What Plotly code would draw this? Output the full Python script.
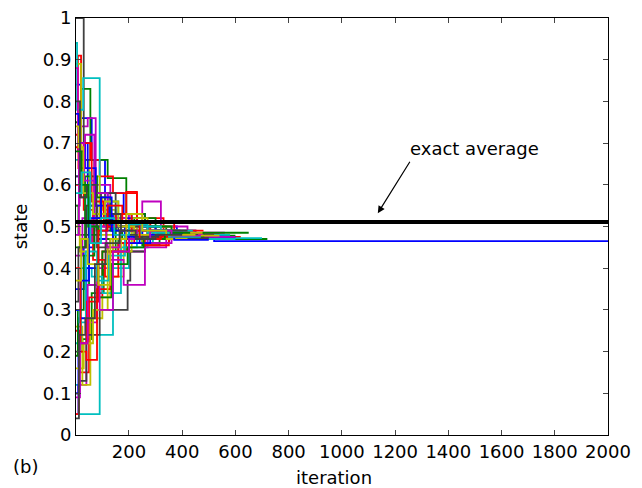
import plotly.graph_objects as go

# ---- data: step traces (iteration breakpoints, state values) ----
b1_x = [1, 20, 60, 110, 180, 260, 380, 520, 2000]
b1_y = [0.84, 0.76, 0.66, 0.58, 0.53, 0.50, 0.48, 0.465, 0.465]
b2_x = [1, 15, 45, 90, 150, 230, 330, 450, 600]
b2_y = [0.62, 0.70, 0.55, 0.49, 0.52, 0.47, 0.49, 0.475, 0.475]
b3_x = [1, 30, 70, 120, 170, 240, 320, 430, 560]
b3_y = [0.35, 0.45, 0.58, 0.50, 0.46, 0.49, 0.47, 0.48, 0.48]
b4_x = [1, 10, 40, 85, 140, 210, 300, 400, 520]
b4_y = [0.10, 0.28, 0.40, 0.47, 0.53, 0.50, 0.485, 0.47, 0.47]
b5_x = [1, 12, 35, 75, 125, 185, 250, 340, 450]
b5_y = [0.77, 0.70, 0.64, 0.55, 0.50, 0.475, 0.49, 0.48, 0.48]
b6_x = [1, 18, 50, 95, 135, 200, 280, 370, 500]
b6_y = [0.30, 0.37, 0.52, 0.57, 0.49, 0.46, 0.48, 0.468, 0.468]

g1_x = [1, 20, 55, 120, 190, 260, 340, 460, 720]
g1_y = [0.75, 0.83, 0.66, 0.616, 0.53, 0.50, 0.48, 0.47, 0.47]
g2_x = [1, 25, 60, 105, 160, 250, 315, 420, 600]
g2_y = [0.20, 0.23, 0.34, 0.41, 0.47, 0.455, 0.47, 0.478, 0.478]
g3_x = [1, 10, 50, 100, 150, 220, 300, 380, 500]
g3_y = [0.55, 0.48, 0.36, 0.44, 0.50, 0.52, 0.49, 0.48, 0.48]
g4_x = [1, 35, 80, 130, 200, 270, 360, 480, 650]
g4_y = [0.45, 0.62, 0.57, 0.49, 0.47, 0.50, 0.475, 0.485, 0.485]
g5_x = [1, 8, 30, 70, 115, 175, 240, 320, 430]
g5_y = [0.19, 0.30, 0.43, 0.52, 0.47, 0.49, 0.475, 0.485, 0.485]
g6_x = [1, 22, 48, 85, 135, 195, 255, 335, 460]
g6_y = [0.68, 0.60, 0.50, 0.33, 0.41, 0.45, 0.47, 0.48, 0.48]

r1_x = [1, 8, 20, 55, 90, 140, 230, 330, 450, 620]
r1_y = [0.72, 0.91, 0.70, 0.66, 0.62, 0.58, 0.52, 0.49, 0.475, 0.475]
r2_x = [1, 15, 50, 100, 190, 230, 300, 400, 540]
r2_y = [0.25, 0.15, 0.33, 0.44, 0.583, 0.50, 0.47, 0.482, 0.482]
r3_x = [1, 30, 65, 110, 160, 220, 280, 370, 480]
r3_y = [0.60, 0.54, 0.42, 0.38, 0.46, 0.48, 0.51, 0.49, 0.49]
r4_x = [1, 12, 40, 80, 130, 200, 260, 350, 500]
r4_y = [0.05, 0.20, 0.18, 0.35, 0.44, 0.47, 0.455, 0.47, 0.47]
r5_x = [1, 10, 30, 60, 105, 150, 210, 290, 400]
r5_y = [0.69, 0.64, 0.70, 0.56, 0.50, 0.53, 0.49, 0.475, 0.475]
r6_x = [1, 18, 42, 85, 120, 175, 240, 320, 420]
r6_y = [0.40, 0.22, 0.32, 0.49, 0.55, 0.51, 0.47, 0.48, 0.48]

c1_x = [1, 10, 90, 140, 200, 270, 340, 460, 700]
c1_y = [0.12, 0.05, 0.24, 0.40, 0.45, 0.47, 0.48, 0.472, 0.472]
c2_x = [1, 5, 28, 90, 150, 210, 290, 390, 520]
c2_y = [0.94, 0.78, 0.856, 0.55, 0.50, 0.46, 0.49, 0.478, 0.478]
c3_x = [1, 20, 60, 100, 170, 230, 310, 420, 580]
c3_y = [0.22, 0.40, 0.38, 0.34, 0.45, 0.49, 0.47, 0.48, 0.48]
c4_x = [1, 15, 45, 110, 160, 240, 330, 440, 600]
c4_y = [0.66, 0.58, 0.50, 0.56, 0.51, 0.49, 0.475, 0.47, 0.47]
c5_x = [1, 14, 38, 80, 125, 185, 245, 320, 440]
c5_y = [0.30, 0.27, 0.44, 0.37, 0.43, 0.48, 0.50, 0.49, 0.49]
c6_x = [1, 22, 55, 95, 145, 200, 270, 350, 470]
c6_y = [0.58, 0.63, 0.46, 0.52, 0.48, 0.505, 0.485, 0.475, 0.475]

m1_x = [1, 15, 45, 75, 130, 200, 260, 350, 470]
m1_y = [0.55, 0.74, 0.76, 0.60, 0.53, 0.44, 0.46, 0.475, 0.475]
m2_x = [1, 10, 40, 80, 140, 250, 320, 420, 560]
m2_y = [0.05, 0.12, 0.27, 0.40, 0.48, 0.56, 0.50, 0.485, 0.485]
m3_x = [1, 25, 60, 120, 180, 260, 340, 440, 600]
m3_y = [0.43, 0.52, 0.46, 0.42, 0.36, 0.45, 0.48, 0.475, 0.475]
m4_x = [1, 8, 35, 70, 120, 190, 270, 360, 480]
m4_y = [0.88, 0.68, 0.72, 0.58, 0.52, 0.50, 0.46, 0.48, 0.48]
m5_x = [1, 12, 32, 70, 115, 165, 230, 300, 410]
m5_y = [0.48, 0.70, 0.61, 0.50, 0.45, 0.49, 0.47, 0.48, 0.48]
m6_x = [1, 16, 45, 90, 140, 200, 280, 360, 470]
m6_y = [0.09, 0.22, 0.36, 0.30, 0.44, 0.47, 0.49, 0.478, 0.478]

y1_x = [1, 20, 50, 100, 150, 210, 280, 380, 500]
y1_y = [0.89, 0.66, 0.57, 0.54, 0.48, 0.51, 0.49, 0.48, 0.48]
y2_x = [1, 25, 55, 100, 130, 180, 250, 330, 450]
y2_y = [0.26, 0.12, 0.28, 0.33, 0.38, 0.46, 0.48, 0.47, 0.47]
y3_x = [1, 15, 50, 90, 140, 210, 270, 360, 480]
y3_y = [0.50, 0.44, 0.62, 0.48, 0.44, 0.52, 0.50, 0.485, 0.485]
y4_x = [1, 30, 65, 120, 170, 230, 300, 400, 540]
y4_y = [0.16, 0.22, 0.30, 0.45, 0.50, 0.49, 0.47, 0.478, 0.478]
y5_x = [1, 10, 28, 65, 110, 160, 220, 300, 420]
y5_y = [0.74, 0.69, 0.58, 0.53, 0.56, 0.50, 0.48, 0.47, 0.47]
y6_x = [1, 20, 45, 85, 130, 190, 250, 340, 450]
y6_y = [0.37, 0.47, 0.41, 0.36, 0.47, 0.53, 0.49, 0.48, 0.48]

k1_x = [1, 30, 70, 110, 160, 230, 300, 400, 520]
k1_y = [1.0, 0.66, 0.58, 0.52, 0.49, 0.47, 0.485, 0.475, 0.475]
k2_x = [1, 15, 40, 90, 195, 205, 260, 350, 480]
k2_y = [0.10, 0.13, 0.24, 0.30, 0.37, 0.44, 0.46, 0.47, 0.47]
k3_x = [1, 20, 50, 95, 150, 220, 300, 390, 520]
k3_y = [0.62, 0.57, 0.48, 0.58, 0.50, 0.47, 0.49, 0.48, 0.48]
k4_x = [1, 10, 40, 80, 130, 200, 270, 360, 500]
k4_y = [0.32, 0.45, 0.55, 0.45, 0.47, 0.50, 0.48, 0.472, 0.472]
k5_x = [1, 16, 42, 78, 118, 170, 230, 310, 420]
k5_y = [0.80, 0.57, 0.60, 0.49, 0.53, 0.48, 0.475, 0.49, 0.49]
k6_x = [1, 12, 36, 72, 112, 165, 225, 300, 400]
k6_y = [0.04, 0.24, 0.28, 0.41, 0.46, 0.49, 0.47, 0.48, 0.48]

exact_average = 0.511
x_ticks = [200, 400, 600, 800, 1000, 1200, 1400, 1600, 1800, 2000]
y_ticks = [0, 0.1, 0.2, 0.3, 0.4, 0.5, 0.6, 0.7, 0.8, 0.9, 1]
y_tick_text = ["0", "0.1", "0.2", "0.3", "0.4", "0.5", "0.6", "0.7", "0.8", "0.9", "1"]

colors = {
    "b": "#0000FF", "g": "#008000", "r": "#FF0000", "c": "#00BFBF",
    "m": "#BF00BF", "y": "#BFBF00", "k": "#404040",
}

series = [
    ("b", b1_x, b1_y), ("g", g1_x, g1_y), ("r", r1_x, r1_y), ("c", c1_x, c1_y),
    ("m", m1_x, m1_y), ("y", y1_x, y1_y), ("k", k1_x, k1_y),
    ("b", b2_x, b2_y), ("g", g2_x, g2_y), ("r", r2_x, r2_y), ("c", c2_x, c2_y),
    ("m", m2_x, m2_y), ("y", y2_x, y2_y), ("k", k2_x, k2_y),
    ("b", b3_x, b3_y), ("g", g3_x, g3_y), ("r", r3_x, r3_y), ("c", c3_x, c3_y),
    ("m", m3_x, m3_y), ("y", y3_x, y3_y), ("k", k3_x, k3_y),
    ("b", b4_x, b4_y), ("g", g4_x, g4_y), ("r", r4_x, r4_y), ("c", c4_x, c4_y),
    ("m", m4_x, m4_y), ("y", y4_x, y4_y), ("k", k4_x, k4_y),
    ("b", b5_x, b5_y), ("g", g5_x, g5_y), ("r", r5_x, r5_y), ("c", c5_x, c5_y),
    ("m", m5_x, m5_y), ("y", y5_x, y5_y), ("k", k5_x, k5_y),
    ("b", b6_x, b6_y), ("g", g6_x, g6_y), ("r", r6_x, r6_y), ("c", c6_x, c6_y),
    ("m", m6_x, m6_y), ("y", y6_x, y6_y), ("k", k6_x, k6_y),
]

fig = go.Figure()
for key, xs, ys in series:
    fig.add_trace(go.Scatter(x=xs, y=ys, mode="lines", line_shape="hv",
                             line=dict(color=colors[key], width=1.8),
                             showlegend=False, hoverinfo="skip", cliponaxis=False))

fig.add_trace(go.Scatter(x=[1, 2000], y=[exact_average, exact_average], mode="lines",
                         line=dict(color="black", width=4), showlegend=False))

font = dict(family="DejaVu Sans, Arial, sans-serif", size=18, color="black")

# The page body adds an 8px offset; figure size and margins compensate for it.
W, H = 634, 480
L, R, T, B = 68, 34, 10, 53
pw, ph = W - L - R, H - T - B

fig.update_layout(
    width=W, height=H,
    margin=dict(l=L, r=R, t=T, b=B, autoexpand=False),
    paper_bgcolor="white", plot_bgcolor="white",
    font=font,
    xaxis=dict(range=[1, 2000], tickvals=x_ticks, ticks="inside", ticklen=5,
               showline=True, linecolor="black", linewidth=1, mirror="ticks",
               showgrid=False, zeroline=False, tickfont=font,
               ticklabeloverflow="allow"),
    yaxis=dict(range=[0, 1], tickvals=y_ticks, ticktext=y_tick_text, ticks="inside",
               ticklen=5, showline=True, linecolor="black", linewidth=1, mirror="ticks",
               showgrid=False, zeroline=False, tickfont=font,
               ticklabeloverflow="allow",
               title=dict(text="state", standoff=10, font=font)),
    annotations=[
        dict(x=(334 - 8 - L) / pw, y=(H - B - 469) / ph, xref="paper", yref="paper",
             text="iteration", showarrow=False, font=font,
             xanchor="center", yanchor="middle"),
        dict(x=1500, y=0.688, xref="x", yref="y", text="exact average", showarrow=False,
             font=font),
        dict(x=1135, y=0.532, ax=1259, ay=0.659, xref="x", yref="y", axref="x", ayref="y",
             text="", showarrow=True, arrowhead=2, arrowsize=1.2, arrowwidth=1.2,
             arrowcolor="black"),
        dict(x=(17 - L) / pw, y=(H - B - 458) / ph, xref="paper", yref="paper", text="(b)",
             showarrow=False, font=font, xanchor="center", yanchor="middle"),
    ],
)

fig.write_html("out.html")
